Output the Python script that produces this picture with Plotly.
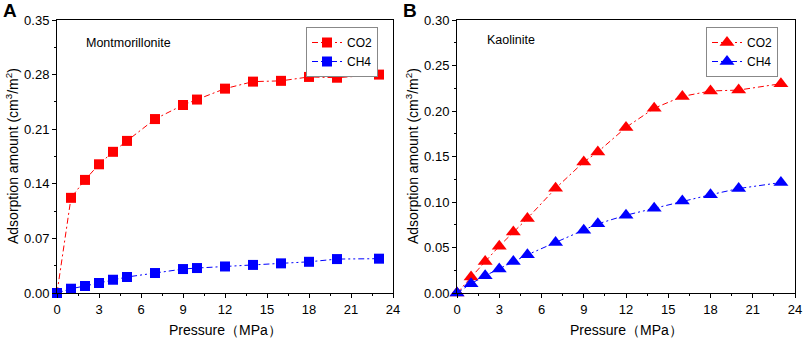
import plotly.graph_objects as go

pressure = [0, 1, 2, 3, 4, 5, 7, 9, 10, 12, 14, 16, 18, 20, 23]
mont_co2 = [0.0, 0.122, 0.145, 0.165, 0.181, 0.195, 0.223, 0.241, 0.248, 0.262, 0.271, 0.272, 0.277, 0.276, 0.280]
mont_ch4 = [0.0, 0.0055, 0.009, 0.0128, 0.017, 0.0205, 0.0256, 0.0307, 0.032, 0.034, 0.036, 0.038, 0.040, 0.0435, 0.044]
kao_co2 = [0.0, 0.0176, 0.0345, 0.0515, 0.067, 0.082, 0.115, 0.144, 0.155, 0.182, 0.203, 0.216, 0.222, 0.223, 0.230]
kao_ch4 = [0.0, 0.0103, 0.019, 0.0265, 0.0345, 0.042, 0.0556, 0.069, 0.076, 0.0855, 0.093, 0.101, 0.108, 0.1148, 0.1214]

RED = "#ff0000"
BLUE = "#0000ff"
DASHDOT = "6px,3px,2px,3px"
DASHDOTDOT = "6px,3px,2px,3px,2px,3px"
FONT = "Liberation Sans, Arial, sans-serif"

fig = go.Figure()

def add(x, y, name, color, dash, symbol, size, xa, ya, legend):
    fig.add_trace(go.Scatter(
        x=x, y=y, name=name, mode="lines+markers",
        line=dict(color=color, width=1, dash=dash),
        marker=dict(color=color, symbol=symbol, size=size, line=dict(width=0)),
        xaxis=xa, yaxis=ya, legend=legend, cliponaxis=False))

add(pressure, mont_co2, "CO2", RED, DASHDOT, "square", 10, "x", "y", "legend")
add(pressure, mont_ch4, "CH4", BLUE, DASHDOTDOT, "square", 10, "x", "y", "legend")
add(pressure, kao_co2, "CO2", RED, DASHDOT, "triangle-up", 13, "x2", "y2", "legend2")
add(pressure, kao_ch4, "CH4", BLUE, DASHDOTDOT, "triangle-up", 13, "x2", "y2", "legend2")

ydom = [1 - 293 / 340, 1 - 20 / 340]
axis_common = dict(
    showline=True, linecolor="black", linewidth=1, mirror=True,
    ticks="outside", ticklen=4, tickwidth=1, tickcolor="black",
    showgrid=False, zeroline=False, automargin=False,
    tickfont=dict(family=FONT, size=13, color="black"),
    minor=dict(ticks="outside", ticklen=2, tickcolor="black", tickwidth=1),
)

legend_common = dict(
    yanchor="top", xanchor="right",
    bordercolor="#888888", borderwidth=1, bgcolor="white",
    traceorder="normal", itemwidth=30, tracegroupgap=0,
    font=dict(family=FONT, size=12, color="black"),
)

fig.update_layout(
    width=803, height=340,
    margin=dict(l=0, r=0, t=0, b=0),
    paper_bgcolor="white", plot_bgcolor="white",
    font=dict(family=FONT, color="black"),
    xaxis=dict(domain=[57 / 803, 393 / 803], range=[0, 24], tickmode="array",
               tickvals=[0, 3, 6, 9, 12, 15, 18, 21, 24], anchor="y", **axis_common),
    yaxis=dict(domain=ydom, range=[0, 0.35], tickmode="array",
               tickvals=[0, 0.07, 0.14, 0.21, 0.28, 0.35],
               ticktext=["0.00", "0.07", "0.14", "0.21", "0.28", "0.35"],
               anchor="x", **axis_common),
    xaxis2=dict(domain=[457 / 803, 795 / 803], range=[0, 24], tickmode="array",
                tickvals=[0, 3, 6, 9, 12, 15, 18, 21, 24], anchor="y2", **axis_common),
    yaxis2=dict(domain=ydom, range=[0, 0.30], tickmode="array",
                tickvals=[0, 0.05, 0.10, 0.15, 0.20, 0.25, 0.30],
                ticktext=["0.00", "0.05", "0.10", "0.15", "0.20", "0.25", "0.30"],
                anchor="x2", **axis_common),
    legend=dict(x=378 / 803, y=1 - 27 / 340, **legend_common),
    legend2=dict(x=778 / 803, y=1 - 27 / 340, **legend_common),
    showlegend=True,
)

fig.update_xaxes(minor=dict(tickvals=[1.5, 4.5, 7.5, 10.5, 13.5, 16.5, 19.5, 22.5]))
fig.layout.yaxis.minor.tickvals = [0.035, 0.105, 0.175, 0.245, 0.315]
fig.layout.yaxis2.minor.tickvals = [0.025, 0.075, 0.125, 0.175, 0.225, 0.275]

def note(text, x, y, size, xanchor="left", yanchor="middle", angle=0):
    fig.add_annotation(text=text, x=x / 803, y=1 - y / 340, xref="paper", yref="paper",
                       xanchor=xanchor, yanchor=yanchor, showarrow=False, textangle=angle,
                       font=dict(family=FONT, size=size, color="black"))

note("<b>A</b>", 1, 11, 19)
note("<b>B</b>", 401, 11, 19)
note("Montmorillonite", 84, 43, 12.5)
note("Kaolinite", 485, 40, 12.5)
ytitle = "Adsorption amount (cm<sup>3</sup>/m<sup>2</sup>)"
note(ytitle, 12, 156, 14, xanchor="center", angle=-90)
note(ytitle, 412, 156, 14, xanchor="center", angle=-90)
note("Pressure（MPa）", 225, 330, 14, xanchor="center")
note("Pressure（MPa）", 626, 330, 14, xanchor="center")

fig.write_html("out.html", config={"displayModeBar": False},
               post_script="document.body.style.margin='0';")
